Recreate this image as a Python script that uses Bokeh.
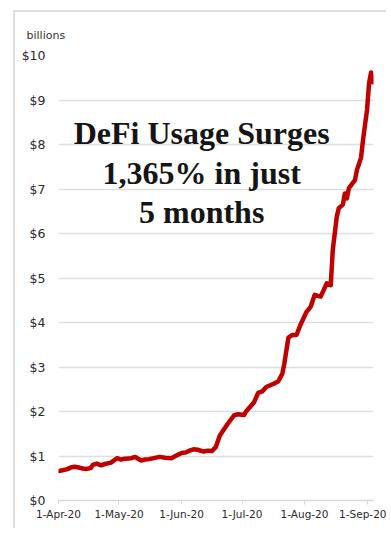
from datetime import datetime
from bokeh.plotting import figure
from bokeh.models import FixedTicker, NumeralTickFormatter, Range1d, Label, ColumnDataSource
from bokeh.embed import file_html
from bokeh.resources import INLINE

# ---- data ----
dates = [
    "2020-04-01", "2020-04-03", "2020-04-05", "2020-04-07", "2020-04-09", "2020-04-11",
    "2020-04-13", "2020-04-15", "2020-04-17", "2020-04-18", "2020-04-20", "2020-04-22",
    "2020-04-24", "2020-04-27", "2020-04-30", "2020-05-02", "2020-05-04", "2020-05-07",
    "2020-05-09", "2020-05-10", "2020-05-12", "2020-05-14", "2020-05-16", "2020-05-20",
    "2020-05-21", "2020-05-24", "2020-05-27", "2020-05-29", "2020-06-01", "2020-06-03",
    "2020-06-05", "2020-06-07", "2020-06-09", "2020-06-12", "2020-06-14", "2020-06-16",
    "2020-06-18", "2020-06-20", "2020-06-24", "2020-06-27", "2020-06-29", "2020-07-02",
    "2020-07-03", "2020-07-07", "2020-07-09", "2020-07-11", "2020-07-13", "2020-07-15",
    "2020-07-17", "2020-07-19", "2020-07-21", "2020-07-22", "2020-07-24", "2020-07-26",
    "2020-07-28", "2020-07-30", "2020-08-02", "2020-08-04", "2020-08-06", "2020-08-09",
    "2020-08-12", "2020-08-14", "2020-08-15", "2020-08-17", "2020-08-18", "2020-08-20",
    "2020-08-21", "2020-08-22", "2020-08-23", "2020-08-26", "2020-08-27", "2020-08-29",
    "2020-08-30", "2020-09-01", "2020-09-02", "2020-09-03", "2020-09-04",
]
values = [
    0.66, 0.68, 0.70, 0.74, 0.76, 0.74,
    0.72, 0.71, 0.73, 0.80, 0.83, 0.79,
    0.82, 0.85, 0.95, 0.92, 0.94, 0.95,
    0.98, 0.95, 0.90, 0.92, 0.93, 0.97,
    0.98, 0.96, 0.95, 1.00, 1.07, 1.08,
    1.12, 1.15, 1.14, 1.10, 1.12, 1.11,
    1.20, 1.46, 1.73, 1.91, 1.94, 1.92,
    2.00, 2.21, 2.42, 2.45, 2.55, 2.59,
    2.63, 2.68, 2.85, 3.08, 3.66, 3.72,
    3.72, 3.95, 4.24, 4.35, 4.62, 4.58,
    4.88, 4.84, 5.63, 6.38, 6.57, 6.65,
    6.90, 6.79, 7.02, 7.20, 7.43, 7.70,
    8.10, 8.78, 9.38, 9.62, 9.40,
]
tick_dates = ["2020-04-01", "2020-05-01", "2020-06-01", "2020-07-01", "2020-08-01", "2020-09-01"]
tick_labels = ["1-Apr-20", "1-May-20", "1-Jun-20", "1-Jul-20", "1-Aug-20", "1-Sep-20"]
y_ticks = [0, 1, 2, 3, 4, 5, 6, 7, 8, 9, 10]
headline = ["DeFi Usage Surges", "1,365% in just", "5 months"]
unit_label = "billions"


def ms(s):
    d = datetime.strptime(s, "%Y-%m-%d")
    return (d - datetime(1970, 1, 1)).total_seconds() * 1000.0


xs = [ms(d) for d in dates]
day = 86400000.0

p = figure(width=373, height=518, x_axis_type="datetime",
           output_backend="svg", toolbar_location=None,
           x_range=Range1d(ms("2020-04-01"), ms("2020-09-04") + 0.2 * day),
           y_range=Range1d(0, 10),
           min_border_left=43, min_border_top=43, min_border_right=15, min_border_bottom=30)
p.margin = (10, 0, 0, 13)
p.styles = {"border-top": "2px solid #dedede", "border-left": "2px solid #dedede"}
p.outline_line_color = None
p.background_fill_color = "white"
p.border_fill_color = "white"

# unit label as a left-aligned title
p.title.text = unit_label
p.title.align = "left"
p.title.offset = -32
p.title.text_font = "DejaVu Sans"
p.title.text_font_style = "normal"
p.title.text_font_size = "11px"
p.title.text_color = "#333333"
p.title.standoff = 27

# grid
p.xgrid.grid_line_color = None
p.ygrid.grid_line_color = "#dedede"
p.ygrid.grid_line_width = 1.5

# y axis
p.yaxis.ticker = FixedTicker(ticks=y_ticks)
p.yaxis.formatter = NumeralTickFormatter(format="$0")
p.yaxis.axis_line_color = None
p.yaxis.major_tick_line_color = None
p.yaxis.minor_tick_line_color = None
p.yaxis.major_label_text_font = "DejaVu Sans"
p.yaxis.major_label_text_font_size = "12.5px"
p.yaxis.major_label_text_color = "#2b2b2b"
p.yaxis.major_label_standoff = 7

# x axis
tick_ms = [ms(d) for d in tick_dates]
p.xaxis.ticker = FixedTicker(ticks=tick_ms)
p.xaxis.major_label_overrides = {t: l for t, l in zip(tick_ms, tick_labels)}
p.xaxis.axis_line_color = "#d9d9d9"
p.xaxis.axis_line_width = 1.5
p.xaxis.major_tick_line_color = "#d9d9d9"
p.xaxis.major_tick_in = 0
p.xaxis.major_tick_out = 4
p.xaxis.minor_tick_line_color = None
p.xaxis.major_label_text_font = "DejaVu Sans"
p.xaxis.major_label_text_font_size = "10.5px"
p.xaxis.major_label_text_color = "#2b2b2b"
p.xaxis.major_label_standoff = 3

src = ColumnDataSource(dict(x=xs, y=values))
p.line("x", "y", source=src, line_color="#c00000", line_width=4.5, line_join="round", line_cap="round")

# headline
cx = ms("2020-06-11")
for txt, yy in zip(headline, [8.25, 7.35, 6.49]):
    p.add_layout(Label(x=cx, y=yy, text=txt, text_align="center", text_baseline="alphabetic",
                       text_font="Liberation Serif", text_font_style="bold",
                       text_font_size="32px", text_color="#151515"))

open("out.html", "w").write(file_html(p, INLINE))
